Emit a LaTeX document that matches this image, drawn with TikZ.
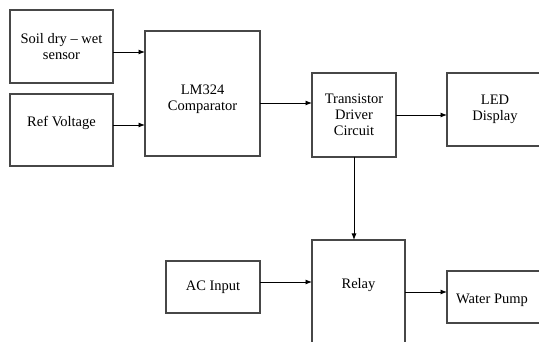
\documentclass[tikz,border=0pt]{standalone}
\usepackage{fontspec}
\setmainfont{Liberation Serif}
\usetikzlibrary{arrows.meta, positioning}

\begin{document}
\begin{tikzpicture}[x=1pt, y=-1pt, >={Latex[length=6.5pt,width=5pt]},
  font=\fontsize{14.5}{16}\selectfont,
  box/.style={draw=black!72, line width=1.1pt, fill=white, align=center, inner sep=0pt, outer sep=0pt},
  link/.style={->, line width=0.9pt}]
\useasboundingbox (0,0) rectangle (539,342);
% inputs
\node[box, minimum width=103pt, minimum height=73pt] (sensor) at (61.5,46.5) {Soil dry -- wet\\sensor};
\node[box, minimum width=103pt, minimum height=72pt,
  label={[anchor=center, yshift=-29pt]north:Ref Voltage}] (ref) at (61.5,130) {};
\node[box, minimum width=115pt, minimum height=125pt,
  label={[anchor=center, align=center, yshift=-68pt]north:LM324\\Comparator}] (lm) at (202.5,93.5) {};
\node[box, minimum width=84pt, minimum height=84pt] (drv) at (354,115) {Transistor\\Driver\\Circuit};
\node[box, minimum width=96pt, minimum height=73pt] (led) at (495,109.5) {LED\\Display};
% switching stage
\node[box, minimum width=94pt, minimum height=52pt] (ac) at (213,287) {AC Input};
\node[box, minimum width=93pt, minimum height=120pt,
  label={[anchor=center, yshift=-45pt]north:Relay}] (relay) at (358.5,300) {};
\node[box, minimum width=96pt, minimum height=52pt,
  label={[anchor=center, xshift=-3pt, yshift=-3pt]center:Water Pump}] (pump) at (495,297) {};
\draw[link] ([yshift=-5.5pt]sensor.east) -- ([yshift=-5.5pt]sensor.east -| lm.west);
\draw[link] ([yshift=5pt]ref.east) -- ([yshift=5pt]ref.east -| lm.west);
\draw[link] ([yshift=-9.5pt]lm.east) -- ([yshift=-9.5pt]lm.east -| drv.west);
\draw[link] (drv.east) -- (drv.east -| led.west);
\draw[link] (drv.south) -- (drv.south |- relay.north);
\draw[link] ([yshift=5pt]ac.east) -- ([yshift=5pt]ac.east -| relay.west);
\draw[link] ([yshift=5pt]pump.west -| relay.east) -- ([yshift=5pt]pump.west);
\end{tikzpicture}
\end{document}
